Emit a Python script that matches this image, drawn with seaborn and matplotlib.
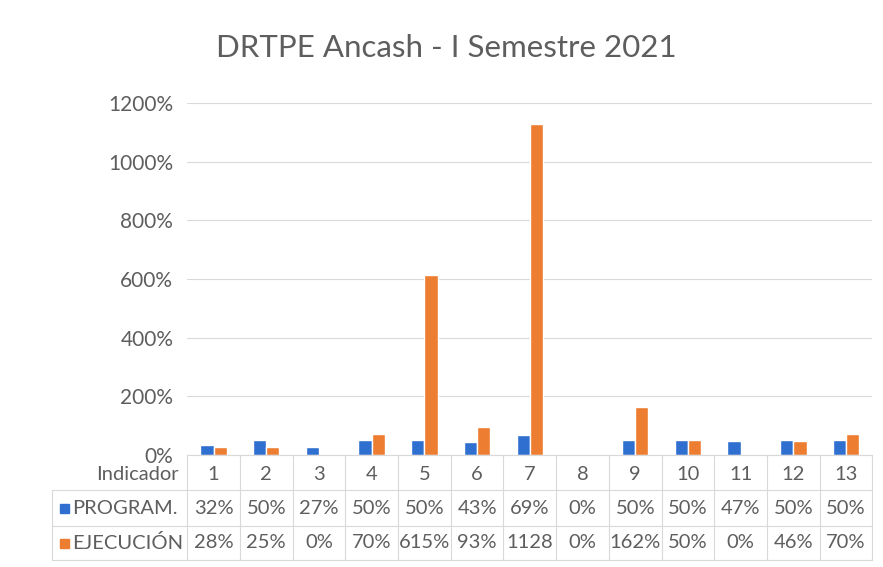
import matplotlib
matplotlib.use("Agg")
import matplotlib.pyplot as plt
import matplotlib.transforms as mtransforms
from matplotlib.patches import Rectangle
import seaborn as sns
import pandas as pd

indicadores = ["1", "2", "3", "4", "5", "6", "7", "8", "9", "10", "11", "12", "13"]
program = [32, 50, 27, 50, 50, 43, 69, 0, 50, 50, 47, 50, 50]
ejecucion = [28, 25, 0, 70, 615, 93, 1128, 0, 162, 50, 0, 46, 70]
series = ["PROGRAM.", "EJECUCIÓN"]
colors = ["#2F6FCF", "#ED7D31"]
title = "DRTPE Ancash - I Semestre 2021"

df = pd.DataFrame({
    "Indicador": indicadores * 2,
    "valor": program + ejecucion,
    "serie": [series[0]] * len(program) + [series[1]] * len(ejecucion),
})

sns.set_style("white")
plt.rcParams["font.family"] = ["Lato", "DejaVu Sans"]
txt = "#5E5E5E"
grid_c = "#D9D9D9"
fs = 14.5

fig = plt.figure(figsize=(8.83, 5.67), dpi=100)
ax = fig.add_axes([0.212, 0.198, 0.776, 0.62])

sns.barplot(data=df, x="Indicador", y="valor", hue="serie", palette=colors,
            width=0.5, ax=ax, legend=False, saturation=1)
ax.set_xlim(-0.5, len(indicadores) - 0.5)
ax.set_ylim(0, 1200)
ax.set_yticks(range(0, 1201, 200))
ax.set_yticklabels([f"{v}%" for v in range(0, 1201, 200)], fontsize=fs + 0.5, color=txt)
ax.tick_params(axis="y", length=0, pad=10)
ax.set_xticks([])
ax.set_xlabel("")
ax.set_ylabel("")
ax.grid(axis="y", color=grid_c, linewidth=0.8)
ax.set_axisbelow(True)
for s in ["top", "right", "left"]:
    ax.spines[s].set_visible(False)
ax.spines["bottom"].set_color(grid_c)

fig.text(0.505, 0.915, title, ha="center", va="center", fontsize=22.5, color=txt)

# data table under the plot
tr = mtransforms.blended_transform_factory(ax.transData, fig.transFigure)
ytab = [1 - 475 / 567, 1 - 508 / 567, 1 - 543 / 567]
row_lines = [1 - 490 / 567, 1 - 526 / 567, 1 - 560 / 567]
for i, lab in enumerate(indicadores):
    ax.text(i, ytab[0], lab, transform=tr, ha="center", va="center", fontsize=fs, color=txt, clip_on=False)
    ax.text(i, ytab[1], f"{program[i]}%", transform=tr, ha="center", va="center", fontsize=fs, color=txt, clip_on=False)
    ej = f"{ejecucion[i]}%" if ejecucion[i] < 1000 else f"{ejecucion[i]}"
    ax.text(i, ytab[2], ej, transform=tr, ha="center", va="center", fontsize=fs, color=txt, clip_on=False)

for k in range(len(indicadores) + 1):
    x = k - 0.5
    ax.plot([x, x], [0.198, row_lines[2]], transform=tr, color=grid_c, lw=0.8, clip_on=False)

left = 52 / 883
for y in row_lines:
    fig.add_artist(plt.Line2D([left, 0.988], [y, y], color=grid_c, lw=0.8))
fig.add_artist(plt.Line2D([left, left], [row_lines[0], row_lines[2]], color=grid_c, lw=0.8))

fig.text(0.202, ytab[0], "Indicador", ha="right", va="center", fontsize=fs, color=txt)
sq_w, sq_h = 9 / 883, 9 / 567
for j, (name, c) in enumerate(zip(series, colors)):
    y = ytab[j + 1]
    fig.add_artist(Rectangle((60 / 883, y - sq_h / 2), sq_w, sq_h, color=c, transform=fig.transFigure))
    fig.text(72 / 883, y, name, ha="left", va="center", fontsize=fs, color=txt)

fig.savefig("out.png", dpi=100)
